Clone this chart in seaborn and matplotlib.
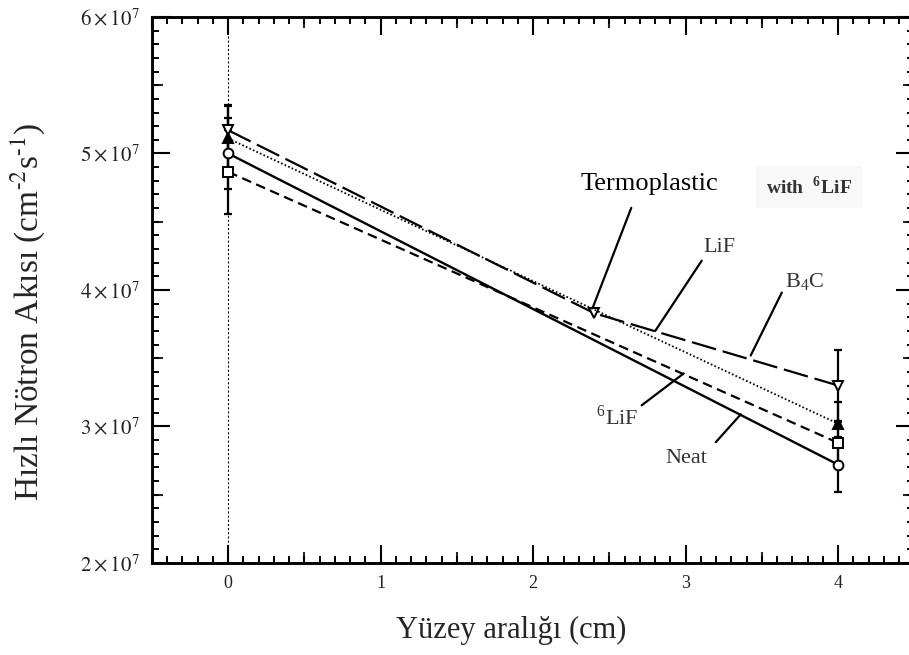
import numpy as np
import pandas as pd
import matplotlib
matplotlib.use("Agg")
import matplotlib.pyplot as plt
import seaborn as sns
from matplotlib.ticker import MultipleLocator

# Fast neutron flux versus surface distance for the shielding samples
distance = [0, 4]
neat = [5.00e7, 2.72e7]
neat_err = [0.26e7, 0.20e7]
lif6 = [4.865e7, 2.88e7]
lif6_err = [0.31e7, 0.15e7]
lif = [5.11e7, 3.02e7]
lif_err = [0.24e7, 0.16e7]
b4c_distance = [0, 2.4, 4]
b4c = [5.17e7, 3.83e7, 3.30e7]
b4c_err = [0.185e7, 0.0, 0.257e7]

x_ticks = [0, 1, 2, 3, 4]
x_tick_labels = ["0", "1", "2", "3", "4"]
y_ticks = [2e7, 3e7, 4e7, 5e7, 6e7]
y_tick_labels = [r"$2\times10^{7}$", r"$3\times10^{7}$", r"$4\times10^{7}$",
                 r"$5\times10^{7}$", r"$6\times10^{7}$"]

sns.set_theme(style="ticks")
plt.rcParams["font.family"] = ["Liberation Serif", "DejaVu Serif"]
plt.rcParams["mathtext.fontset"] = "stix"
plt.rcParams["lines.scale_dashes"] = False

fig = plt.figure(figsize=(9.09, 6.55), dpi=100)
ax = fig.add_axes([152 / 909, 92 / 655, 0.8388, 0.8336])

# thin reference line at the surface
ax.axvline(0, color="black", lw=0.8, ls=(0, (1.5, 1.5)), zorder=1)

series = [
    # name, x, y, err, line style, marker, face, width
    ("B4C", b4c_distance, b4c, b4c_err, (0, (18, 5)), "v", "white", 1.6),
    ("LiF", distance, lif, lif_err, (0, (1.2, 1.6)), "^", "black", 1.3),
    ("6LiF", distance, lif6, lif6_err, (0, (7, 4)), "s", "white", 1.6),
    ("Neat", distance, neat, neat_err, "-", "o", "white", 1.7),
]

for name, xs, ys, errs, ls, mk, face, lw in series:
    df = pd.DataFrame({"x": xs, "y": ys})
    sns.lineplot(data=df, x="x", y="y", ax=ax, color="black", errorbar=None,
                 linestyle=ls, linewidth=lw, marker=mk, markersize=7,
                 markerfacecolor=face, markeredgecolor="black",
                 markeredgewidth=1.4, zorder=4)
    xe = np.asarray(xs, dtype=float)
    ye = np.asarray(ys, dtype=float)
    ee = np.asarray(errs, dtype=float)
    keep = ee > 0
    ax.errorbar(xe[keep], ye[keep], yerr=ee[keep], fmt="none", ecolor="black",
                elinewidth=1.6, capsize=3, capthick=1.6, zorder=3)

ax.set_xlim(-0.5, 4.5)
ax.set_ylim(2e7, 6e7)
ax.set_xticks(x_ticks, labels=x_tick_labels)
ax.set_yticks(y_ticks, labels=y_tick_labels)
ax.xaxis.set_minor_locator(MultipleLocator(0.1))
ax.yaxis.set_minor_locator(MultipleLocator(1e6))
ax.tick_params(which="major", direction="in", length=13, width=1.5,
               top=True, right=True, color="black", labelcolor="#222222")
ax.tick_params(axis="x", which="major", pad=9, labelsize=13)
ax.tick_params(axis="y", which="major", pad=9, labelsize=15)
ax.tick_params(which="minor", direction="in", length=4.7, width=1.4,
               top=True, right=True, color="black")
for sp in ax.spines.values():
    sp.set_linewidth(1.9)
    sp.set_color("black")

# medium ticks at the half steps on every side
half_x = np.arange(-0.5, 4.6, 1.0)
half_y = np.arange(2.5e7, 6e7, 1e7)
for loc in ("bottom", "top"):
    sec = ax.secondary_xaxis(loc)
    sec.set_xticks(half_x)
    sec.set_xticklabels([])
    sec.tick_params(direction="in", length=8, width=1.5)
    sec.spines[loc].set_linewidth(1.9)
for loc in ("left", "right"):
    sec = ax.secondary_yaxis(loc)
    sec.set_yticks(half_y)
    sec.set_yticklabels([])
    sec.tick_params(direction="in", length=8, width=1.5)
    sec.spines[loc].set_linewidth(1.9)

ax.set_xlabel("Yüzey aralığı (cm)", fontsize=22)
ax.xaxis.set_label_coords(0.4705, -0.097)
ax.set_ylabel(r"Hızlı Nötron Akısı (cm$^{\text{-2}}$s$^{\text{-1}}$)", fontsize=24)
ax.yaxis.set_label_coords(-0.138, 0.46)

# curve labels with leader lines
lead = dict(arrowstyle="-", color="black", lw=1.6, shrinkA=0, shrinkB=0)
ax.text(2.763, 4.778e7, "Termoplastic", fontsize=19, ha="center", va="center",
        color="black")
ax.annotate("", xy=(2.39, 3.87e7), xytext=(2.643, 4.602e7), arrowprops=lead)
ax.text(3.807, 4.756e7, r"with  $^{\mathregular{6}}$LiF", fontsize=14,
        fontweight="bold", ha="center", va="center", color="#333333",
        bbox=dict(boxstyle="square,pad=0.5", fc="#f8f8f8", ec="none"))
ax.text(3.223, 4.31e7, "LiF", fontsize=16, ha="center", va="center",
        color="#333333")
ax.annotate("", xy=(2.80, 3.70e7), xytext=(3.105, 4.215e7), arrowprops=lead)
ax.text(3.780, 4.061e7, r"B$_{\mathregular{4}}$C", fontsize=16, ha="center",
        va="center", color="#333333")
ax.annotate("", xy=(3.426, 3.52e7), xytext=(3.630, 3.981e7), arrowprops=lead)
ax.text(2.548, 3.067e7, r"$^{\mathregular{6}}$LiF", fontsize=16, ha="center",
        va="center", color="#333333")
ax.annotate("", xy=(2.987, 3.389e7), xytext=(2.711, 3.155e7), arrowprops=lead)
ax.text(3.007, 2.768e7, "Neat", fontsize=16, ha="center", va="center",
        color="#333333")
ax.annotate("", xy=(3.361, 3.089e7), xytext=(3.197, 2.885e7), arrowprops=lead)

fig.savefig("out.png", dpi=100)
